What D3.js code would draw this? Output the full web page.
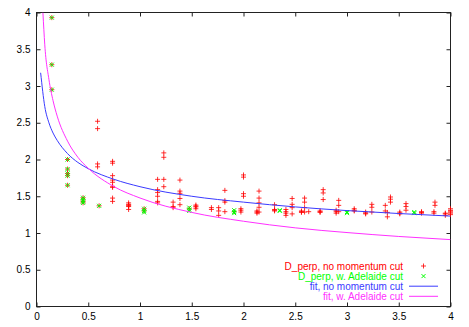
<!DOCTYPE html>
<html>
<head>
<meta charset="utf-8">
<script src="https://cdn.jsdelivr.net/npm/d3@7"></script>
<style>
  body { margin: 0; background: #fff; }
  svg text { font-family: "Liberation Sans", Arial, sans-serif; font-size: 10px; }
</style>
</head>
<body>
<div id="chart"></div>
<script>
//Datos
const xTicks = [0, 0.5, 1, 1.5, 2, 2.5, 3, 3.5, 4];
const yTicks = [0, 0.5, 1, 1.5, 2, 2.5, 3, 3.5, 4];

//D_perp, sin corte de momento
const redPoints = [
  [0.148, 3.93], [0.148, 3.29], [0.148, 2.95],
  [0.30, 2.0], [0.30, 1.87], [0.30, 1.81], [0.30, 1.78], [0.30, 1.65],
  [0.45, 1.48], [0.45, 1.45], [0.45, 1.43], [0.45, 1.41],
  [0.59, 2.52], [0.59, 2.42], [0.59, 1.94], [0.59, 1.90],
  [0.605, 1.37],
  [0.735, 1.975], [0.735, 1.95], [0.735, 1.78], [0.735, 1.72], [0.735, 1.69], [0.735, 1.635], [0.735, 1.62], [0.735, 1.475], [0.735, 1.43],
  [0.89, 1.41], [0.89, 1.39], [0.89, 1.38], [0.89, 1.37], [0.89, 1.36], [0.89, 1.32],
  [1.04, 1.33], [1.04, 1.30],
  [1.17, 1.73], [1.17, 1.59], [1.17, 1.55], [1.17, 1.50], [1.17, 1.43], [1.17, 1.41],
  [1.23, 2.09], [1.23, 2.03], [1.23, 1.73], [1.23, 1.63],
  [1.32, 1.42], [1.32, 1.36], [1.32, 1.345],
  [1.386, 1.72], [1.386, 1.57], [1.386, 1.54], [1.386, 1.47], [1.386, 1.385],
  [1.476, 1.33],
  [1.54, 1.38], [1.54, 1.365], [1.54, 1.355], [1.54, 1.33],
  [1.69, 1.345], [1.69, 1.32],
  [1.76, 1.345], [1.76, 1.30], [1.76, 1.24],
  [1.82, 1.58], [1.82, 1.44], [1.82, 1.42], [1.82, 1.29],
  [1.91, 1.29],
  [1.975, 1.33], [1.975, 1.31], [1.975, 1.285],
  [2.0, 1.79], [2.0, 1.76], [2.0, 1.535], [2.0, 1.50],
  [2.13, 1.30], [2.13, 1.285], [2.13, 1.27],
  [2.15, 1.57], [2.15, 1.475], [2.15, 1.41], [2.15, 1.35], [2.15, 1.285],
  [2.30, 1.385], [2.30, 1.32], [2.30, 1.31], [2.30, 1.30],
  [2.41, 1.32], [2.41, 1.29], [2.41, 1.27], [2.41, 1.24],
  [2.47, 1.47], [2.47, 1.39], [2.47, 1.345], [2.47, 1.26],
  [2.56, 1.28], [2.56, 1.29], [2.56, 1.30],
  [2.59, 1.475], [2.59, 1.42], [2.59, 1.345], [2.59, 1.285],
  [2.63, 1.29],
  [2.74, 1.30], [2.74, 1.29], [2.74, 1.28],
  [2.77, 1.59], [2.77, 1.545], [2.77, 1.455],
  [2.895, 1.31], [2.895, 1.29], [2.895, 1.27],
  [2.92, 1.444], [2.92, 1.376], [2.92, 1.29],
  [3.07, 1.33], [3.07, 1.31], [3.07, 1.30],
  [3.18, 1.285], [3.18, 1.27], [3.18, 1.26],
  [3.24, 1.39], [3.24, 1.35], [3.24, 1.285],
  [3.37, 1.376], [3.37, 1.30],
  [3.39, 1.28], [3.39, 1.22],
  [3.42, 1.49], [3.42, 1.46], [3.42, 1.42],
  [3.51, 1.285], [3.51, 1.27], [3.51, 1.26],
  [3.57, 1.40], [3.57, 1.36], [3.57, 1.31],
  [3.72, 1.29], [3.72, 1.28], [3.72, 1.27],
  [3.84, 1.29], [3.84, 1.27],
  [3.85, 1.42], [3.85, 1.376],
  [3.95, 1.27], [3.95, 1.26], [3.95, 1.24],
  [4.0, 1.33], [4.0, 1.31], [4.0, 1.30], [4.0, 1.285], [4.0, 1.27], [4.0, 1.25]
];

//D_perp, con corte Adelaide
const greenPoints = [
  [0.148, 3.93], [0.148, 3.29], [0.148, 2.95],
  [0.30, 2.0], [0.30, 1.87], [0.30, 1.81], [0.30, 1.78], [0.30, 1.65],
  [0.45, 1.48], [0.45, 1.45], [0.45, 1.43], [0.45, 1.41],
  [0.605, 1.37],
  [1.04, 1.33], [1.04, 1.30], [1.04, 1.28],
  [1.476, 1.345], [1.476, 1.32], [1.476, 1.30],
  [1.91, 1.31], [1.91, 1.285], [1.91, 1.27],
  [2.35, 1.31], [2.35, 1.30],
  [3.0, 1.285], [3.0, 1.27],
  [3.65, 1.285], [3.65, 1.27]
];

//Ajustes
const blueFit = [
  [0.04, 3.18], [0.08, 2.72], [0.12, 2.50], [0.16, 2.36], [0.2, 2.26], [0.3, 2.08],
  [0.4, 1.96], [0.5, 1.875], [0.75, 1.73], [1, 1.63], [1.5, 1.50], [2, 1.42],
  [2.5, 1.355], [3, 1.305], [3.5, 1.265], [4, 1.23]
];
const magentaFit = [
  [0.062, 4.0], [0.08, 3.56], [0.12, 3.09], [0.16, 2.80], [0.2, 2.59], [0.3, 2.25],
  [0.4, 2.03], [0.5, 1.88], [0.75, 1.63], [1, 1.476], [1.5, 1.28], [2, 1.16],
  [2.5, 1.07], [3, 1.006], [3.5, 0.953], [4, 0.91]
];

const legendLabels = ['D_perp, no momentum cut', 'D_perp, w. Adelaide cut', 'fit, no momentum cut', 'fit, w. Adelaide cut'];

//Colores
const COLOR_RED = '#ff0000',
  COLOR_GREEN = '#00ff00',
  COLOR_BLUE = '#3a3aff',
  COLOR_MAGENTA = '#ff30ff',
  COLOR_AXIS = '#222';

const W = 469, H = 327;
let margin = {top: 12.5, right: 18.5, bottom: 20.5, left: 36.5};

let svg = d3.select('#chart').append('svg')
  .attr('width', W)
  .attr('height', H);

let x = d3.scaleLinear().domain([0, 4]).range([margin.left, W - margin.right]);
let y = d3.scaleLinear().domain([0, 4]).range([H - margin.bottom, margin.top]);

//Ejes con marcas hacia dentro
function styleAxis(g) {
  g.select('.domain').remove();
  g.selectAll('.tick line').attr('stroke', COLOR_AXIS);
  g.selectAll('.tick text').attr('fill', '#000');
}

svg.append('g')
  .attr('transform', 'translate(0,' + y(0) + ')')
  .call(d3.axisBottom(x).tickValues(xTicks).tickSize(-4).tickPadding(6).tickFormat(d3.format('')))
  .call(styleAxis);

svg.append('g')
  .attr('transform', 'translate(' + x(0) + ',0)')
  .call(d3.axisLeft(y).tickValues(yTicks).tickSize(-4).tickPadding(6).tickFormat(d3.format('')))
  .call(styleAxis);

svg.append('g')
  .attr('transform', 'translate(0,' + y(4) + ')')
  .call(d3.axisTop(x).tickValues(xTicks).tickSize(-4).tickFormat(''))
  .call(styleAxis);

svg.append('g')
  .attr('transform', 'translate(' + x(4) + ',0)')
  .call(d3.axisRight(y).tickValues(yTicks).tickSize(-4).tickFormat(''))
  .call(styleAxis);

svg.append('rect')
  .attr('x', x(0)).attr('y', y(4))
  .attr('width', x(4) - x(0)).attr('height', y(0) - y(4))
  .attr('fill', 'none')
  .attr('stroke', COLOR_AXIS);

svg.append('clipPath').attr('id', 'clip')
  .append('rect')
  .attr('x', x(0)).attr('y', y(4))
  .attr('width', x(4) - x(0)).attr('height', y(0) - y(4));

const plusPath = 'M-2.5,0H2.5M0,-2.5V2.5';
const crossPath = 'M-2,-2L2,2M-2,2L2,-2';

//Puntos
svg.append('g')
  .selectAll('path')
  .data(redPoints)
  .enter()
  .append('path')
  .attr('d', plusPath)
  .attr('transform', function(d) { return 'translate(' + x(d[0]) + ',' + y(d[1]) + ')'; })
  .attr('stroke', COLOR_RED)
  .attr('stroke-width', 1)
  .style('opacity', 0.8)
  .attr('fill', 'none');

svg.append('g')
  .selectAll('path')
  .data(greenPoints)
  .enter()
  .append('path')
  .attr('d', crossPath)
  .attr('transform', function(d) { return 'translate(' + x(d[0]) + ',' + y(d[1]) + ')'; })
  .attr('stroke', COLOR_GREEN)
  .attr('stroke-width', 1)
  .attr('fill', 'none');

//Curvas de ajuste
let line = d3.line()
  .x(function(d) { return x(d[0]); })
  .y(function(d) { return y(d[1]); })
  .curve(d3.curveMonotoneX);

svg.append('path')
  .datum(blueFit)
  .attr('clip-path', 'url(#clip)')
  .attr('d', line)
  .attr('fill', 'none')
  .attr('stroke', COLOR_BLUE)
  .attr('stroke-width', 1);

svg.append('path')
  .datum(magentaFit)
  .attr('clip-path', 'url(#clip)')
  .attr('d', line)
  .attr('fill', 'none')
  .attr('stroke', COLOR_MAGENTA)
  .attr('stroke-width', 1);

//Leyenda
const legendColors = [COLOR_RED, COLOR_GREEN, COLOR_BLUE, COLOR_MAGENTA];
let legend = svg.append('g');

legendLabels.forEach(function(label, i) {
  let ly = 266 + i * 10.1;
  legend.append('text')
    .attr('x', 403)
    .attr('y', ly)
    .attr('dy', '0.35em')
    .attr('text-anchor', 'end')
    .attr('fill', legendColors[i])
    .text(label);

  if (i == 0) {
    legend.append('path').attr('d', plusPath)
      .attr('transform', 'translate(423.5,' + ly + ')')
      .attr('stroke', COLOR_RED).style('opacity', 0.8).attr('fill', 'none');
  } else if (i == 1) {
    legend.append('path').attr('d', crossPath)
      .attr('transform', 'translate(423.5,' + ly + ')')
      .attr('stroke', COLOR_GREEN).attr('fill', 'none');
  } else {
    legend.append('line')
      .attr('x1', 409).attr('x2', 438)
      .attr('y1', ly).attr('y2', ly)
      .attr('stroke', legendColors[i])
      .attr('stroke-width', 1);
  }
});
</script>
</body>
</html>
